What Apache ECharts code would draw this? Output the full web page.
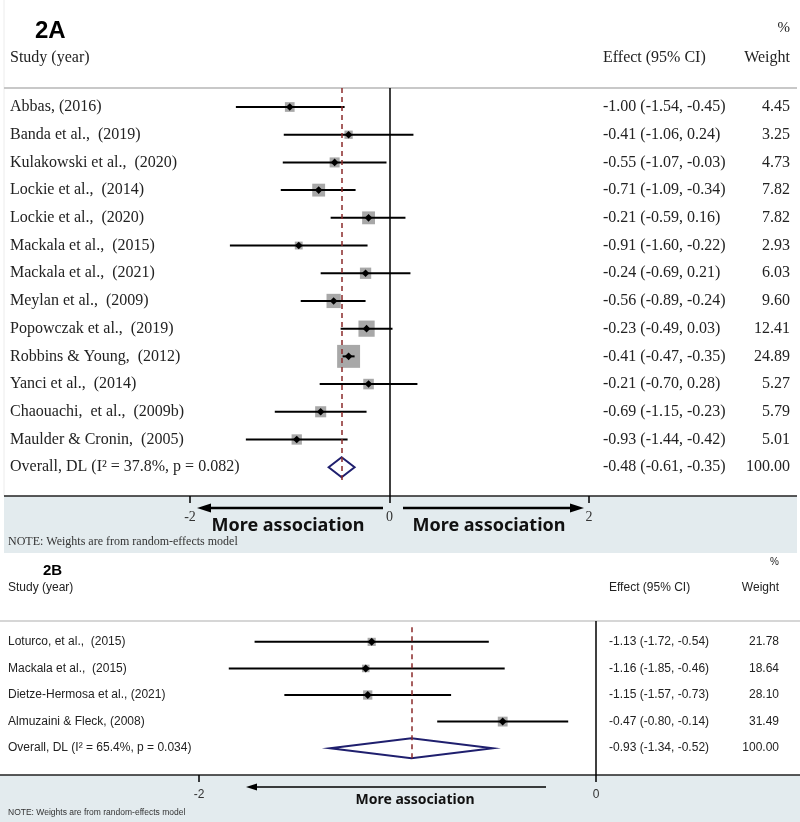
<!DOCTYPE html>
<html><head><meta charset="utf-8">
<script src="https://cdn.jsdelivr.net/npm/echarts@6/dist/echarts.min.js"></script>
<style>html,body{margin:0;padding:0;background:#fff}#c{width:800px;height:822px}</style>
</head><body><div id="c"></div>
<script>
// ---------- Panel 2A data ----------
var studiesA = ["Abbas, (2016)","Banda et al.,  (2019)","Kulakowski et al.,  (2020)","Lockie et al.,  (2014)","Lockie et al.,  (2020)","Mackala et al.,  (2015)","Mackala et al.,  (2021)","Meylan et al.,  (2009)","Popowczak et al.,  (2019)","Robbins & Young,  (2012)","Yanci et al.,  (2014)","Chaouachi,  et al.,  (2009b)","Maulder & Cronin,  (2005)","Overall, DL (I\u00B2 = 37.8%, p = 0.082)"];
var estA = [-1.00,-0.41,-0.55,-0.71,-0.21,-0.91,-0.24,-0.56,-0.23,-0.41,-0.21,-0.69,-0.93,-0.48];
var loA  = [-1.54,-1.06,-1.07,-1.09,-0.59,-1.60,-0.69,-0.89,-0.49,-0.47,-0.70,-1.15,-1.44,-0.61];
var hiA  = [-0.45,0.24,-0.03,-0.34,0.16,-0.22,0.21,-0.24,0.03,-0.35,0.28,-0.23,-0.42,-0.35];
var wA   = [4.45,3.25,4.73,7.82,7.82,2.93,6.03,9.60,12.41,24.89,5.27,5.79,5.01,100.00];
var ticksA = [-2,0,2];
// ---------- Panel 2B data ----------
var studiesB = ["Loturco, et al.,  (2015)","Mackala et al.,  (2015)","Dietze-Hermosa et al., (2021)","Almuzaini & Fleck, (2008)","Overall, DL (I\u00B2 = 65.4%, p = 0.034)"];
var estB = [-1.13,-1.16,-1.15,-0.47,-0.93];
var loB  = [-1.72,-1.85,-1.57,-0.80,-1.34];
var hiB  = [-0.54,-0.46,-0.73,-0.14,-0.52];
var wB   = [21.78,18.64,28.10,31.49,100.00];
var ticksB = [-2,0];

function fmt(v){ return v.toFixed(2); }
function buildData(est,lo,hi,w){
  return est.map(function(e,i){ return [i,e,lo[i],hi[i],w[i], i===est.length-1?1:0]; });
}

function makeRender(cfg, names){
  return function(params, api){
    var row = api.value(0), est = api.value(1), lo = api.value(2), hi = api.value(3), w = api.value(4), ov = api.value(5);
    var pe = api.coord([est,row]), pl = api.coord([lo,row]), ph = api.coord([hi,row]);
    var y = pe[1];
    var ch = [];
    if (ov) {
      ch.push({type:'polygon', shape:{points:[[pl[0],y],[pe[0],y-cfg.dh],[ph[0],y],[pe[0],y+cfg.dh]]},
        style:{fill:'#fff', stroke:'#1f1f6e', lineWidth:cfg.dlw}});
    } else {
      var s = cfg.k*Math.sqrt(w);
      ch.push({type:'rect', shape:{x:pe[0]-s/2, y:y-s/2, width:s, height:s}, style:{fill:'#a8a8a8'}});
      ch.push({type:'line', shape:{x1:pl[0],y1:y,x2:ph[0],y2:y}, style:{stroke:'#000', lineWidth:cfg.lw}});
      var m = cfg.m;
      ch.push({type:'polygon', shape:{points:[[pe[0]-m,y],[pe[0],y-m],[pe[0]+m,y],[pe[0],y+m]]}, style:{fill:'#000'}});
    }
    var ts = {fontFamily:cfg.font, fill:'#222', verticalAlign:'middle'};
    ch.push({type:'text', x:cfg.labelX, y:y+cfg.ty, style:Object.assign({text:names[params.dataIndex], fontSize:cfg.lfs, align:'left'}, ts)});
    ch.push({type:'text', x:cfg.effX, y:y+cfg.ty, style:Object.assign({text:fmt(est)+' ('+fmt(lo)+', '+fmt(hi)+')', fontSize:cfg.rfs, align:'left'}, ts)});
    ch.push({type:'text', x:cfg.wX, y:y+cfg.ty, style:Object.assign({text:fmt(w), fontSize:cfg.rfs, align:'right'}, ts)});
    return {type:'group', children:ch};
  };
}

var SERIF = '"Liberation Serif","Times New Roman",serif';
var SANS = '"Liberation Sans",Arial,sans-serif';
var BOLD = '"Noto Sans","Open Sans",sans-serif';
var BAND = '#e3ebee';

var chart = echarts.init(document.getElementById('c'), null, {renderer:'canvas'});
var option = {
  animation:false,
  backgroundColor:'#fff',
  grid:[
    {left:190, right:211, top:88, height:408},
    {left:199, right:204, top:621, height:154}
  ],
  xAxis:[
    {gridIndex:0, type:'value', min:ticksA[0], max:ticksA[ticksA.length-1], interval:2, position:'bottom',
     axisLine:{show:false, onZero:false}, splitLine:{show:false},
     axisTick:{show:true, length:7, lineStyle:{color:'#000', width:1.5}},
     axisLabel:{margin:14, fontFamily:SERIF, fontSize:14, color:'#333'}},
    {gridIndex:1, type:'value', min:ticksB[0], max:ticksB[ticksB.length-1], interval:2, position:'bottom',
     axisLine:{show:false, onZero:false}, splitLine:{show:false},
     axisTick:{show:true, length:7, lineStyle:{color:'#000', width:1.5}},
     axisLabel:{margin:14, fontFamily:SANS, fontSize:12, color:'#333'}}
  ],
  yAxis:[
    {gridIndex:0, type:'value', inverse:true, min:-0.686, max:14.04, show:false},
    {gridIndex:1, type:'value', inverse:true, min:-0.785, max:5.01, show:false}
  ],
  series:[
    {type:'custom', xAxisIndex:0, yAxisIndex:0, data:buildData(estA,loA,hiA,wA),
     renderItem:makeRender({k:4.6, lw:2, m:3.8, dh:10, dlw:2, font:SERIF, lfs:16, rfs:16, labelX:10, effX:603, wX:790, ty:0}, studiesA),
     markLine:{silent:true, symbol:'none', label:{show:false},
       data:[
         [{coord:[0,-0.686], lineStyle:{color:'#000', width:1.5, type:'solid'}},{coord:[0,14.04]}],
         [{coord:[estA[estA.length-1],-0.686], lineStyle:{color:'#8b2a2a', width:1.5, type:[5,4]}},{coord:[estA[estA.length-1],13.55]}]
       ]}},
    {type:'custom', xAxisIndex:1, yAxisIndex:1, data:buildData(estB,loB,hiB,wB),
     renderItem:makeRender({k:1.75, lw:2, m:4, dh:10, dlw:2, font:SANS, lfs:12, rfs:12, labelX:8, effX:609, wX:779, ty:0}, studiesB),
     markLine:{silent:true, symbol:'none', label:{show:false},
       data:[
         [{coord:[0,-0.785], lineStyle:{color:'#000', width:1.5, type:'solid'}},{coord:[0,5.01]}],
         [{coord:[estB[estB.length-1],-0.55], lineStyle:{color:'#8b2a2a', width:1.5, type:[5,4]}},{coord:[estB[estB.length-1],4.5]}]
       ]}}
  ],
  graphic:[
    // backgrounds
    {type:'rect', z:-10, shape:{x:4,y:496,width:793,height:57}, style:{fill:BAND}},
    {type:'rect', z:-10, shape:{x:0,y:775,width:800,height:47}, style:{fill:BAND}},
    {type:'line', z:-5, shape:{x1:4,y1:0,x2:4,y2:496}, style:{stroke:'#ececec', lineWidth:1}},
    // separators
    {type:'line', shape:{x1:4,y1:88,x2:797,y2:88}, style:{stroke:'#c8c8c8', lineWidth:2}},
    {type:'line', shape:{x1:0,y1:621,x2:800,y2:621}, style:{stroke:'#c8c8c8', lineWidth:1.5}},
    // axis lines
    {type:'line', shape:{x1:4,y1:496,x2:797,y2:496}, style:{stroke:'#222', lineWidth:1.5}},
    {type:'line', shape:{x1:0,y1:775,x2:800,y2:775}, style:{stroke:'#222', lineWidth:1.5}},
    // headers 2A
    {type:'text', x:35, y:31, style:{text:'2A', fontFamily:SANS, fontWeight:'bold', fontSize:24, fill:'#000', verticalAlign:'middle'}},
    {type:'text', x:10, y:58, style:{text:'Study (year)', fontFamily:SERIF, fontSize:16, fill:'#222', verticalAlign:'middle'}},
    {type:'text', x:790, y:28, style:{text:'%', fontFamily:SERIF, fontSize:15, fill:'#222', align:'right', verticalAlign:'middle'}},
    {type:'text', x:603, y:58, style:{text:'Effect (95% CI)', fontFamily:SERIF, fontSize:16, fill:'#222', verticalAlign:'middle'}},
    {type:'text', x:790, y:58, style:{text:'Weight', fontFamily:SERIF, fontSize:16, fill:'#222', align:'right', verticalAlign:'middle'}},
    // arrows 2A
    {type:'line', shape:{x1:383,y1:508,x2:208,y2:508}, style:{stroke:'#000', lineWidth:2.5}},
    {type:'polygon', shape:{points:[[197,508],[211,503.5],[211,512.5]]}, style:{fill:'#000'}},
    {type:'line', shape:{x1:403,y1:508,x2:572,y2:508}, style:{stroke:'#000', lineWidth:2.5}},
    {type:'polygon', shape:{points:[[584,508],[570,503.5],[570,512.5]]}, style:{fill:'#000'}},
    {type:'text', x:288, y:526, style:{text:'More association', fontFamily:BOLD, fontWeight:'bold', fontSize:18, fill:'#111', align:'center', verticalAlign:'middle'}},
    {type:'text', x:489, y:526, style:{text:'More association', fontFamily:BOLD, fontWeight:'bold', fontSize:18, fill:'#111', align:'center', verticalAlign:'middle'}},
    {type:'text', x:8, y:542, style:{text:'NOTE: Weights are from random-effects model', fontFamily:SERIF, fontSize:12, fill:'#333', verticalAlign:'middle'}},
    // headers 2B
    {type:'text', x:43, y:571, style:{text:'2B', fontFamily:SANS, fontWeight:'bold', fontSize:15, fill:'#000', verticalAlign:'middle'}},
    {type:'text', x:8, y:588, style:{text:'Study (year)', fontFamily:SANS, fontSize:12, fill:'#222', verticalAlign:'middle'}},
    {type:'text', x:779, y:562, style:{text:'%', fontFamily:SANS, fontSize:10, fill:'#222', align:'right', verticalAlign:'middle'}},
    {type:'text', x:609, y:588, style:{text:'Effect (95% CI)', fontFamily:SANS, fontSize:12, fill:'#222', verticalAlign:'middle'}},
    {type:'text', x:779, y:588, style:{text:'Weight', fontFamily:SANS, fontSize:12, fill:'#222', align:'right', verticalAlign:'middle'}},
    // arrow 2B
    {type:'line', shape:{x1:546,y1:787,x2:255,y2:787}, style:{stroke:'#000', lineWidth:1.5}},
    {type:'polygon', shape:{points:[[246,787],[257,783.5],[257,790.5]]}, style:{fill:'#000'}},
    {type:'text', x:415, y:800, style:{text:'More association', fontFamily:BOLD, fontWeight:'bold', fontSize:14, fill:'#111', align:'center', verticalAlign:'middle'}},
    {type:'text', x:8, y:813, style:{text:'NOTE: Weights are from random-effects model', fontFamily:SANS, fontSize:8.5, fill:'#333', verticalAlign:'middle'}}
  ]
};
chart.setOption(option);
</script></body></html>
